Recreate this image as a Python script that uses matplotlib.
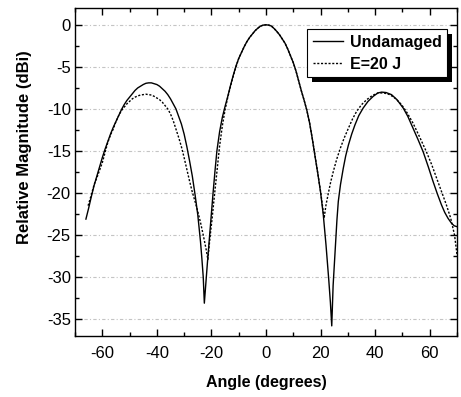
import matplotlib
matplotlib.use("Agg")
import matplotlib.pyplot as plt
from matplotlib.patches import Rectangle
from matplotlib.ticker import MultipleLocator

plt.rcParams['font.family'] = ['Liberation Sans', 'DejaVu Sans']
plt.rcParams['axes.unicode_minus'] = False

# undamaged pattern
ang_u = [-66.0, -65.0, -64.0, -63.0, -62.0, -61.0, -60.0, -59.0, -58.0, -57.0,
         -56.0, -55.0, -54.0, -53.0, -52.0, -51.0, -50.0, -49.0, -48.0, -47.0,
         -46.0, -45.0, -44.0, -43.0, -42.0, -41.0, -40.0, -39.0, -38.0, -37.0,
         -36.0, -35.0, -34.0, -33.0, -32.0, -31.0, -30.0, -29.0, -28.0, -27.0,
         -26.0, -25.0, -24.0, -23.5, -23.0, -22.6,
         -22.0, -21.4, -20.9, -20.4, -19.4, -18.7, -18.0, -17.0, -16.0, -15.0,
         -14.0, -13.0, -12.0, -11.0, -10.0, -9.0, -8.0, -7.0, -6.0, -5.0,
         -4.0, -3.0, -2.0, -1.0, 0.0, 1.0, 2.0, 3.0, 4.0, 5.0,
         6.0, 7.0, 8.0, 9.0, 10.0, 11.0, 12.0, 13.0, 14.0, 15.0,
         16.0, 17.0, 18.0, 19.0, 20.0, 21.0, 22.0, 23.0, 23.6, 24.1,
         24.6, 25.3, 26.0, 26.5, 27.3, 28.3, 29.2, 30.2, 31.4, 32.6,
         34.0, 35.6, 37.4, 39.3, 41.0, 42.4, 44.0, 46.0, 48.0, 50.3,
         52.0, 53.9, 55.8, 57.6, 59.5, 61.2, 62.8, 64.3, 65.5, 66.7,
         68.0, 69.0, 70.0]
mag_u = [-23.1, -21.8, -20.4, -19.1, -18.0, -16.9, -15.8, -14.8, -13.9, -13.0,
         -12.2, -11.5, -10.8, -10.1, -9.5, -9.0, -8.6, -8.2, -7.8, -7.5,
         -7.3, -7.1, -6.95, -6.9, -6.9, -7.0, -7.1, -7.3, -7.6, -7.9,
         -8.3, -8.8, -9.4, -10.0, -10.9, -11.8, -13.0, -14.5, -16.2, -18.0,
         -20.2, -22.6, -25.8, -27.8, -30.0, -33.1,
         -30.5, -28.0, -26.0, -24.0, -20.0, -17.4, -15.0, -12.7, -11.0, -9.7,
         -8.5, -7.2, -6.0, -4.9, -4.0, -3.3, -2.6, -2.0, -1.5, -1.1,
         -0.7, -0.4, -0.15, -0.03, 0.0, -0.03, -0.15, -0.45, -0.8, -1.2,
         -1.7, -2.2, -2.9, -3.7, -4.5, -5.5, -6.7, -7.9, -9.0, -10.2,
         -11.7, -13.6, -15.7, -17.7, -19.9, -22.6, -26.2, -30.3, -33.0, -35.8,
         -31.0, -27.0, -23.2, -21.0, -19.0, -17.1, -15.6, -14.3, -13.0, -11.9,
         -10.8, -9.9, -9.1, -8.5, -8.1, -8.0, -8.05, -8.3, -8.9, -9.9,
         -10.9, -12.3, -13.7, -15.1, -16.9, -18.6, -20.1, -21.4, -22.3, -23.0,
         -23.6, -23.9, -24.0]

# after 20 J impact
ang_d = [-65.2, -64.0, -63.0, -62.0, -61.0, -60.0, -59.0, -58.0, -57.0, -56.0,
         -55.0, -54.0, -53.0, -52.0, -51.0, -50.0, -49.0, -48.0, -47.0, -46.0,
         -45.0, -44.0, -43.0, -42.0, -41.0, -40.0, -39.0, -38.0, -37.0, -36.0,
         -35.0, -34.0, -33.0, -32.0, -31.0, -30.0, -29.0, -28.0, -27.0, -26.0,
         -25.0, -24.0, -23.0, -22.0, -21.3,
         -20.9, -20.4, -19.8, -19.0, -18.0, -17.0, -16.0, -15.0, -14.0, -13.0,
         -12.0, -11.0, -10.0, -9.0, -8.0, -7.0, -6.0, -5.0, -4.0, -3.0,
         -2.0, -1.0, 0.0, 1.0, 2.0, 3.0, 4.0, 5.0, 6.0, 7.0,
         8.0, 9.0, 10.0, 11.0, 12.0, 13.0, 14.0, 15.0, 16.0, 17.0,
         18.0, 19.0, 20.0, 20.7, 21.3,
         22.0, 22.8, 23.7, 24.7, 25.9, 27.1, 28.6, 30.2, 31.7, 33.2,
         35.0, 36.9, 39.0, 41.1, 43.2, 45.4, 47.6, 49.7, 51.8, 53.9,
         56.4, 58.8, 60.7, 62.5, 64.3, 66.1, 67.7, 69.1, 70.0]
mag_d = [-21.5, -20.2, -19.0, -18.2, -17.3, -16.4, -15.2, -14.0, -13.1, -12.4,
         -11.5, -10.8, -10.2, -9.8, -9.4, -9.1, -8.8, -8.6, -8.45, -8.35,
         -8.3, -8.25, -8.3, -8.35, -8.5, -8.7, -8.9, -9.2, -9.6, -10.0,
         -10.6, -11.4, -12.4, -13.4, -14.5, -15.8, -17.2, -18.6, -19.9, -21.0,
         -22.2, -23.5, -25.0, -26.6, -27.9,
         -26.5, -24.9, -23.2, -20.6, -17.5, -14.4, -12.0, -10.1, -8.6, -7.3,
         -6.1, -5.0, -4.0, -3.3, -2.6, -2.0, -1.5, -1.1, -0.7, -0.4,
         -0.15, -0.03, 0.0, -0.03, -0.15, -0.45, -0.8, -1.2, -1.7, -2.2,
         -2.9, -3.7, -4.5, -5.5, -6.7, -7.9, -9.0, -10.2, -11.7, -13.6,
         -15.6, -17.7, -19.8, -21.5, -23.0,
         -21.4, -20.1, -18.7, -17.4, -16.0, -14.8, -13.5, -12.3, -11.2, -10.3,
         -9.5, -8.9, -8.4, -8.1, -8.1, -8.3, -8.8, -9.5, -10.5, -11.7,
         -13.4, -15.1, -16.6, -18.2, -19.8, -21.4, -23.0, -25.0, -27.3]

fig = plt.figure(figsize=(4.61, 3.97), dpi=100)
ax = fig.add_axes([0.1627, 0.1537, 0.8286, 0.8261])

ax.plot(ang_u, mag_u, color='black', lw=1.0, label='Undamaged')
ax.plot(ang_d, mag_d, color='black', lw=1.0, linestyle=(0, (1.5, 1.2)), label='E=20 J')

ax.set_xlim(-70, 70)
ax.set_ylim(-37, 2)
ax.xaxis.set_major_locator(MultipleLocator(20))
ax.xaxis.set_minor_locator(MultipleLocator(10))
ax.yaxis.set_major_locator(MultipleLocator(5))
ax.yaxis.set_minor_locator(MultipleLocator(2.5))
ax.tick_params(which='both', direction='in', top=True, right=True, width=1.0)
ax.tick_params(which='major', length=5, labelsize=12)
ax.tick_params(axis='x', which='major', pad=7)
ax.tick_params(axis='y', which='major', pad=3)
ax.tick_params(which='minor', length=3)
ax.yaxis.grid(True, linestyle=(0, (3, 2, 1, 2)), color='#c4c4c4', linewidth=0.8)
ax.set_axisbelow(True)
for s in ax.spines.values():
    s.set_linewidth(1.0)

ax.set_xlabel('Angle (degrees)', fontsize=11.5, fontweight='bold', labelpad=10)
ax.set_ylabel('Relative Magnitude (dBi)', fontsize=12, fontweight='bold')
ax.yaxis.set_label_coords(-0.113, 0.575)

leg = ax.legend(loc='upper right', bbox_to_anchor=(0.974, 0.936), borderaxespad=0,
                prop={'weight': 'bold', 'size': 11.5}, handlelength=1.9,
                handletextpad=0.4, labelspacing=0.45, borderpad=0.35,
                fancybox=False, framealpha=1, edgecolor='black')
leg.get_frame().set_linewidth(0.8)
leg.set_zorder(6)

# solid black drop shadow under the legend box
fig.canvas.draw()
bb = leg.get_window_extent().transformed(ax.transAxes.inverted())
dx = 5 / (ax.bbox.width)
dy = 5 / (ax.bbox.height)
ax.add_patch(Rectangle((bb.x0 + dx, bb.y0 - dy), bb.width, bb.height,
                       transform=ax.transAxes, facecolor='black', edgecolor='none',
                       zorder=5.5, clip_on=False))

fig.savefig('out.png', dpi=100)
